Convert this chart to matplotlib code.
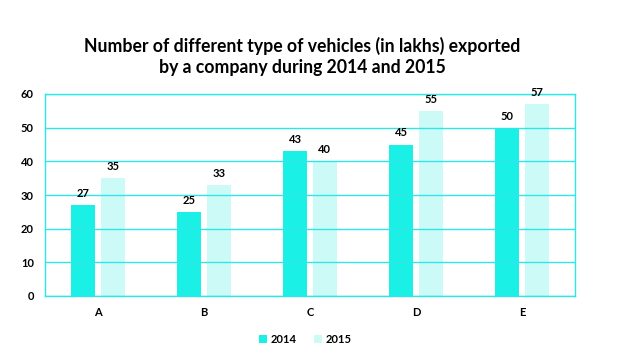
import matplotlib
matplotlib.use("Agg")
import matplotlib.pyplot as plt
import numpy as np

plt.rcParams['font.family'] = ['Lato', 'DejaVu Sans']

categories = ['A', 'B', 'C', 'D', 'E']
v2014 = [27, 25, 43, 45, 50]
v2015 = [35, 33, 40, 55, 57]

c14 = '#1BF0E6'
c15 = '#CCFAF7'
line = '#2EE6E6'

fig = plt.figure(figsize=(6.17, 3.59), dpi=100)
ax = fig.add_axes([45/617, 1 - 296/359, 530/617, 202/359])

x = np.arange(len(categories))
w = 0.226
ax.bar(x - 0.14, v2014, w, color=c14, label='2014', zorder=2)
ax.bar(x + 0.14, v2015, w, color=c15, label='2015', zorder=2)

for xi, v in zip(x, v2014):
    ax.text(xi - 0.14, v + 1.8, str(v), ha='center', va='bottom', fontsize=8, fontweight='bold')
for xi, v in zip(x, v2015):
    ax.text(xi + 0.14, v + 1.8, str(v), ha='center', va='bottom', fontsize=8, fontweight='bold')

ax.set_xlim(-0.5, 4.5)
ax.set_ylim(0, 60)
ax.set_yticks(range(0, 61, 10))
ax.set_xticks(x)
ax.set_xticklabels(categories)
ax.yaxis.grid(True, color=line, linewidth=1, zorder=3)
ax.set_axisbelow(False)
for s in ax.spines.values():
    s.set_color(line)
    s.set_linewidth(1)
ax.tick_params(length=0, labelsize=8, pad=8)
for lab in ax.get_xticklabels() + ax.get_yticklabels():
    lab.set_fontweight('bold')

fig.text(0.49, 0.843, 'Number of different type of vehicles (in lakhs) exported\nby a company during 2014 and 2015',
         ha='center', va='center', fontsize=12.7, fontweight='bold', linespacing=1.3)

leg = fig.legend(loc='center', bbox_to_anchor=(0.495, 0.055), ncol=2, frameon=False,
                 fontsize=8, handlelength=0.7, handleheight=0.7, handletextpad=0.4, columnspacing=1.5)
for t in leg.get_texts():
    t.set_fontweight('bold')

fig.savefig('out.png', dpi=100)
